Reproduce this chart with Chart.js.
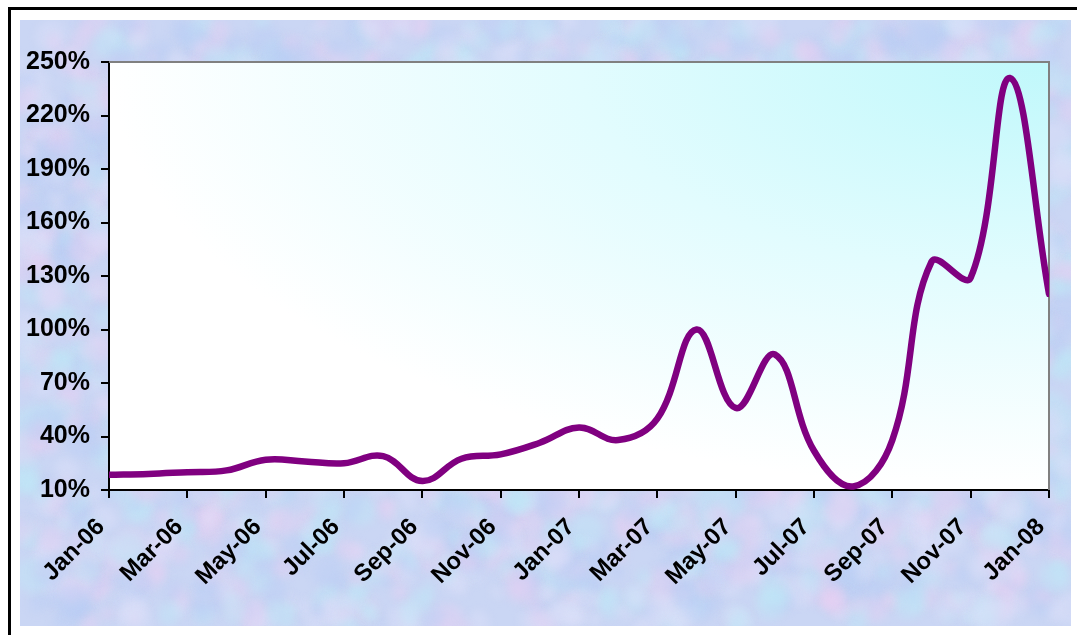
<!DOCTYPE html>
<html>
<head>
<meta charset="utf-8">
<script src="https://cdn.jsdelivr.net/npm/chart.js@4.4.1/dist/chart.umd.min.js"></script>
<style>
  html, body { margin: 0; padding: 0; background: #fff; width: 1077px; height: 635px; overflow: hidden; }
  #frame { position: absolute; left: 8px; top: 7px; width: 1100px; height: 700px;
           border-left: 3px solid #000; border-top: 3px solid #000; }
  #marble { position: absolute; left: 20px; top: 20px; }
  #wrap { position: absolute; left: 0; top: 0; width: 1077px; height: 635px; }
</style>
</head>
<body>
<div id="frame"></div>
<canvas id="marble" width="1051" height="606"></canvas>
<div id="wrap"><canvas id="chart"></canvas></div>
<script>
// Monthly series, Jan-06 .. Jan-08
const months = ['Jan-06','Feb-06','Mar-06','Apr-06','May-06','Jun-06','Jul-06','Aug-06','Sep-06','Oct-06','Nov-06','Dec-06',
                'Jan-07','Feb-07','Mar-07','Apr-07','May-07','Jun-07','Jul-07','Aug-07','Sep-07','Oct-07','Nov-07','Dec-07',
                'Jan-08'];
const changePct = [18.5, 19, 20, 21, 27, 26, 25, 29, 15, 27.5, 30, 36.5,
                   45, 38, 50, 100, 56, 86, 32, 12, 38, 138, 129, 241,
                   120];
const yMin = 10, yMax = 250, yStep = 30;
const xTickStep = 2;

// Soft pastel marble backdrop behind the chart
function paintMarble() {
  const cv = document.getElementById('marble');
  const c = cv.getContext('2d');
  c.fillStyle = '#cad6f4';
  c.fillRect(0, 0, cv.width, cv.height);
  let s = 20240607;
  const rnd = () => { s = (Math.imul(s, 1103515245) + 12345) >>> 0; return s / 4294967296; };
  const tints = ['rgba(232,208,242,0.4)', 'rgba(190,232,248,0.4)', 'rgba(184,206,246,0.4)', 'rgba(222,224,250,0.4)'];
  c.filter = 'blur(4px)';
  for (let i = 0; i < 2600; i++) {
    c.fillStyle = tints[i % tints.length];
    const x = rnd() * cv.width, y = rnd() * cv.height, r = 4 + rnd() * 14;
    c.beginPath();
    c.ellipse(x, y, r, r * (0.5 + rnd() * 0.7), rnd() * Math.PI, 0, Math.PI * 2);
    c.fill();
  }
  c.filter = 'none';
}
paintMarble();

// Plot area fill: cyan glow from the top-right corner fading to white, grey frame top/right
const plotFill = {
  id: 'plotFill',
  beforeDraw(chart) {
    const { ctx, chartArea: { left, top, right, bottom } } = chart;
    const w = right - left, h = bottom - top;
    ctx.save();
    ctx.beginPath();
    ctx.rect(left, top, w, h);
    ctx.clip();
    ctx.translate(right, top);
    ctx.scale(w, h);
    const g = ctx.createRadialGradient(0, 0, 0, 0, 0, 1);
    g.addColorStop(0, '#c0f8fb');
    g.addColorStop(0.5, '#e2fcfe');
    g.addColorStop(1, '#ffffff');
    ctx.fillStyle = g;
    ctx.fillRect(-1, 0, 1, 1);
    ctx.restore();
  },
  beforeDatasetsDraw(chart) {
    const { ctx, chartArea: { left, top, right, bottom } } = chart;
    ctx.save();
    ctx.strokeStyle = '#808080';
    ctx.lineWidth = 2;
    ctx.beginPath();
    ctx.moveTo(left, top);
    ctx.lineTo(right, top);
    ctx.lineTo(right, bottom);
    ctx.stroke();
    ctx.restore();
  }
};

Chart.defaults.font.family = '"Liberation Sans", Arial, sans-serif';
Chart.defaults.font.weight = 'bold';
Chart.defaults.color = '#000';

new Chart(document.getElementById('chart'), {
  type: 'line',
  data: {
    datasets: [{
      data: changePct.map((v, i) => ({ x: i, y: v })),
      borderColor: '#800080',
      borderWidth: 6.5,
      borderCapStyle: 'round',
      borderJoinStyle: 'round',
      pointRadius: 0,
      tension: 0.4,
      fill: false
    }]
  },
  options: {
    responsive: true,
    maintainAspectRatio: false,
    animation: false,
    layout: { padding: { left: 20, top: 62, right: 28, bottom: 20 } },
    plugins: { legend: { display: false }, tooltip: { enabled: false } },
    scales: {
      x: {
        type: 'linear',
        min: 0, max: months.length - 1,
        afterFit(scale) { scale.height = 125; scale.paddingLeft = 0; scale.paddingRight = 0; },
        afterBuildTicks(scale) {
          const t = [];
          for (let i = 0; i < months.length; i += xTickStep) t.push({ value: i });
          scale.ticks = t;
        },
        ticks: {
          autoSkip: false,
          minRotation: 45, maxRotation: 45,
          padding: 15,
          labelOffset: -8,
          font: { size: 24, weight: 'bold' },
          callback: (v) => months[v]
        },
        grid: { drawOnChartArea: false, drawTicks: true, tickLength: 8, color: '#000', lineWidth: 2 },
        border: { display: true, color: '#000', width: 2 }
      },
      y: {
        min: yMin, max: yMax,
        afterFit(scale) { scale.width = 89; scale.paddingTop = 0; scale.paddingBottom = 0; },
        ticks: {
          stepSize: yStep,
          padding: 11,
          font: { size: 25, weight: 'bold' },
          callback: (v) => v + '%'
        },
        grid: { drawOnChartArea: false, drawTicks: true, tickLength: 8, color: '#000', lineWidth: 2 },
        border: { display: true, color: '#000', width: 2 }
      }
    }
  },
  plugins: [plotFill]
});
</script>
</body>
</html>
